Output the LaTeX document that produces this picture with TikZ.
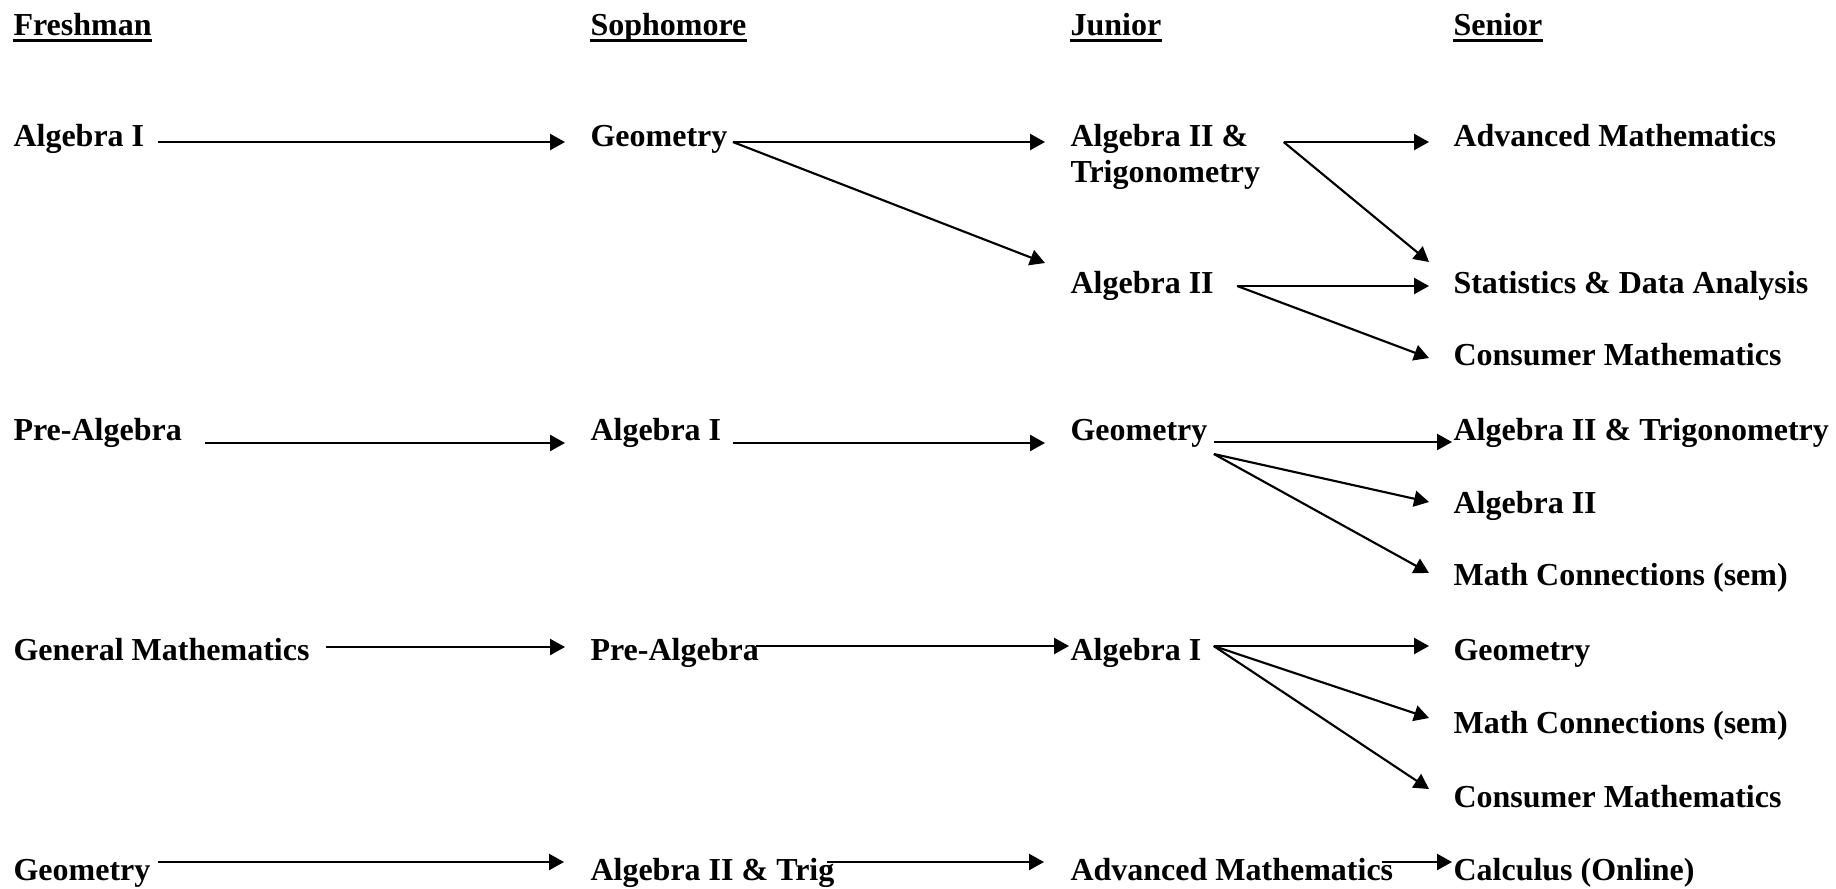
\documentclass[tikz,border=0pt]{standalone}
\usepackage{fontspec}
\setmainfont{Liberation Serif}
\usetikzlibrary{calc,arrows.meta}
\tikzset{>={Triangle[length=5.6pt,width=6pt]}}
\tikzset{course/.style={anchor=base west,inner sep=0pt,
    font=\bfseries\fontsize{12}{13.5}\selectfont},
  link/.style={->,line width=.8pt}}

\begin{document}
\begin{tikzpicture}[x=.375pt,y=-.375pt]
\useasboundingbox (0,0) rectangle (1836,888);
% year headings
\foreach \name/\x/\txt in {hFr/13/Freshman,hSo/590/Sophomore,hJu/1070/Junior,hSe/1453/Senior} {
  \node[course] (\name) at (\x,35) {\txt};
  \draw[line width=1.1pt] ($(\name.base west)+(0,5.5)$) -- ($(\name.base east)+(0,5.5)$);
}
% courses
\foreach \name/\x/\y/\txt in {frAlgI/13/146/Algebra I,frPreAlg/13/440/Pre-Algebra,
  frGenMath/13/660/General Mathematics,frGeom/13/880/Geometry,
  soGeom/590/146/Geometry,soAlgI/590/440/Algebra I,soPreAlg/590/660/Pre-Algebra,
  soAlgTrig/590/880/Algebra II \& Trig,
  juAlgII/1070/293/Algebra II,juGeom/1070/440/Geometry,juAlgI/1070/660/Algebra I,
  juAdvMath/1070/880/Advanced Mathematics,
  seAdvMath/1453/146/Advanced Mathematics,seStats/1453/293/Statistics \& Data Analysis,
  seConsA/1453/365/Consumer Mathematics,seAlgTrig/1453/440/Algebra II \& Trigonometry,
  seAlgII/1453/513/Algebra II,seMathA/1453/585/Math Connections (sem),
  seGeom/1453/660/Geometry,seMathB/1453/733/Math Connections (sem),
  seConsB/1453/807/Consumer Mathematics,seCalc/1453/880/Calculus (Online)}
  \node[course] (\name) at (\x,\y) {\txt};
\node[course] (juAlgTrig) at (1070,146)
  {\begin{tabular}[t]{@{}l@{}}Algebra II \&\\Trigonometry\end{tabular}};
% sequences
\foreach \a/\ga/\da/\b/\gb/\db in {frAlgI/13/-4/soGeom/-25/-4,
  soGeom/5/-4/juAlgTrig/-25/-4,soGeom/5/-4/juAlgII/-25/-30,
  juAlgTrig/23/-4/seAdvMath/-24/-4,juAlgTrig/23/-4/seStats/-24/-31,
  juAlgII/23/-7/seStats/-24/-7,juAlgII/23/-7/seConsA/-24/-7,
  frPreAlg/23/3/soAlgI/-25/3,soAlgI/11/3/juGeom/-25/3,
  juGeom/6/2/seAlgTrig/-1/2,juGeom/6/14/seAlgII/-24/-11,juGeom/6/14/seMathA/-24/-12,
  frGenMath/16/-13/soPreAlg/-25/-13,soPreAlg/-3/-14/juAlgI/-1/-14,
  juAlgI/12/-14/seGeom/-24/-14,juAlgI/12/-14/seMathB/-24/-15,juAlgI/12/-14/seConsB/-24/-18,
  frGeom/7/-18/soAlgTrig/-26/-18,soAlgTrig/-8/-18/juAdvMath/-26/-18,
  juAdvMath/-12/-18/seCalc/-1/-18}
  \draw[link] ($(\a.base east)+(\ga,\da)$) -- ($(\b.base west)+(\gb,\db)$);
\end{tikzpicture}
\end{document}
